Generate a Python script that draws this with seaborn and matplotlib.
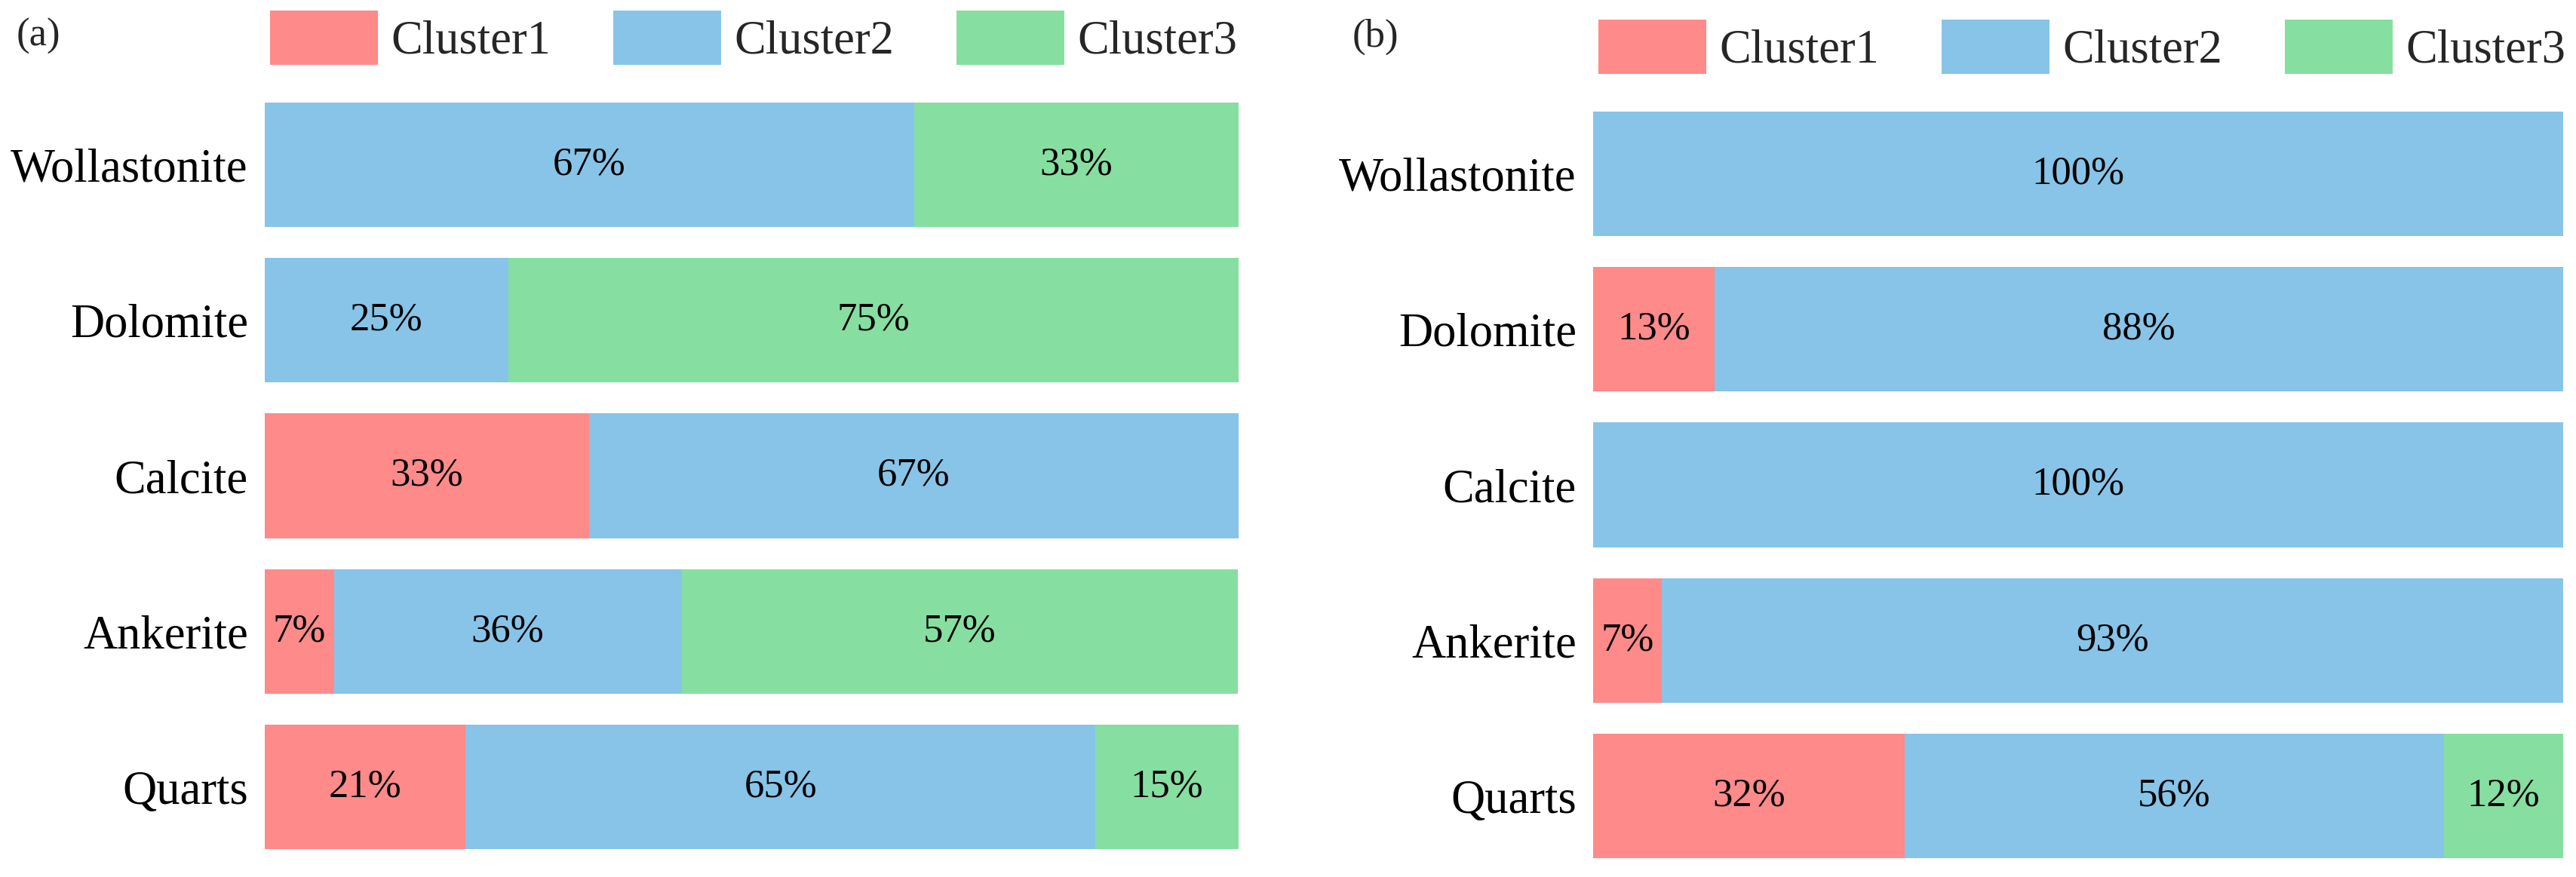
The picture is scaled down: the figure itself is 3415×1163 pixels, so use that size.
import pandas as pd
import seaborn as sns
import matplotlib.pyplot as plt
from matplotlib.patches import Patch

# categories
minerals = ["Wollastonite", "Dolomite", "Calcite", "Ankerite", "Quarts"]
clusters = ["Cluster1", "Cluster2", "Cluster3"]
colors = ["#FF8A8A", "#87C4E8", "#86DFA0"]

# share of each cluster per mineral (%), panel (a)
a_c1 = [0, 0, 33.3, 7.1, 20.6]
a_c2 = [66.7, 25, 66.7, 35.7, 64.7]
a_c3 = [33.3, 75, 0, 57.1, 14.7]

# panel (b)
b_c1 = [0, 12.5, 0, 7.1, 32.1]
b_c2 = [100, 87.5, 100, 92.9, 55.6]
b_c3 = [0, 0, 0, 0, 12.3]

sns.set_theme(style="white")
plt.rcParams["font.family"] = ["Liberation Serif", "DejaVu Serif"]

fig = plt.figure(figsize=(34.15, 11.63), dpi=100)
W, H = 3415, 1163


def px_axes(left, top, right, bottom):
    return fig.add_axes([left / W, 1 - bottom / H, (right - left) / W, (bottom - top) / H])


def draw_panel(ax, c1, c2, c3):
    df = pd.DataFrame({"mineral": minerals, "c1": c1, "c2": c2, "c3": c3})
    df["s2"] = df["c1"] + df["c2"]
    df["s3"] = df["s2"] + df["c3"]
    # stacked bars: draw cumulative totals back to front
    for col, colr in [("s3", colors[2]), ("s2", colors[1]), ("c1", colors[0])]:
        sns.barplot(data=df, x=col, y="mineral", order=minerals, color=colr,
                    saturation=1, width=0.8, linewidth=0, orient="h", ax=ax)
    # percentage labels in the middle of each segment
    for i, row in df.iterrows():
        left = 0
        for v in (row["c1"], row["c2"], row["c3"]):
            if v > 0:
                ax.text(left + v / 2, i, f"{int(v + 0.5)}%", ha="center", va="center",
                        fontsize=38, color="black")
            left += v
    ax.set_xlim(0, 100)
    ax.set_ylim(4.5, -0.5)
    ax.set_xlabel("")
    ax.set_ylabel("")
    ax.set_xticks([])
    ax.tick_params(axis="y", length=0, pad=16, labelsize=45, labelcolor="black")
    sns.despine(ax=ax, left=True, bottom=True)


ax1 = px_axes(351, 115, 1642, 1147)
draw_panel(ax1, a_c1, a_c2, a_c3)
ax2 = px_axes(2112, 127, 3398, 1159)
draw_panel(ax2, b_c1, b_c2, b_c3)

handles = [Patch(facecolor=c, edgecolor="none") for c in colors]
leg_kw = dict(frameon=False, ncol=3, fontsize=45, handlelength=2.29, handleheight=1.4,
              handletextpad=0.27, columnspacing=1.33, borderpad=0, borderaxespad=0,
              loc="center left", bbox_transform=fig.transFigure)
fig.legend(handles, clusters, bbox_to_anchor=(358 / W, 1 - 50 / H), **leg_kw)
fig.legend(handles, clusters, bbox_to_anchor=(2119 / W, 1 - 62 / H), **leg_kw)

fig.text(22 / W, 1 - 48 / H, "(a)", fontsize=38, ha="left", va="center")
fig.text(1793 / W, 1 - 49 / H, "(b)", fontsize=38, ha="left", va="center")

fig.savefig("out.png", dpi=100, facecolor="white")
